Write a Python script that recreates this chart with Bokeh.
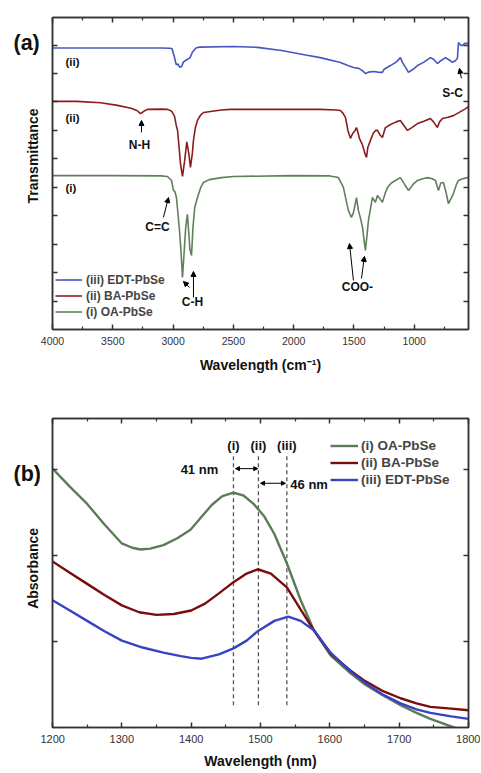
import math
from bokeh.plotting import figure
from bokeh.models import (Range1d, LinearAxis, FixedTicker, Label, Arrow,
                          NormalHead, Legend, LegendItem)
from bokeh.layouts import column, row
from bokeh.embed import file_html
from bokeh.resources import INLINE

# ---------------- data: panel (a) FTIR ----------------
ftir_wn_edt = [4000, 3500, 3100, 3030, 3010, 2990, 2975, 2960, 2945, 2930,
               2915, 2900, 2880, 2860, 2840, 2810, 2780, 2500, 2300, 2100,
               1900, 1780, 1612, 1550, 1504, 1460, 1430, 1405, 1380, 1338,
               1300, 1264, 1250, 1197, 1150, 1115, 1098, 1070, 1048, 1010,
               973, 920, 866, 840, 808, 780, 741, 700, 683, 660,
               642, 633, 615, 600, 580, 558, 550]
ftir_t_edt = [9.90, 9.90, 9.90, 9.89, 9.88, 9.60, 9.32, 9.33, 9.22, 9.24,
              9.40, 9.45, 9.50, 9.55, 9.75, 9.90, 9.93, 9.95, 9.92, 9.81,
              9.65, 9.56, 9.39, 9.28, 9.21, 9.18, 9.10, 9.00, 9.05, 9.07,
              9.05, 9.04, 9.15, 9.28, 9.40, 9.56, 9.39, 9.20, 9.04, 9.15,
              9.28, 9.40, 9.56, 9.50, 9.35, 9.45, 9.56, 9.45, 9.39, 9.45,
              9.53, 10.09, 9.99, 9.99, 10.06, 10.06, 10.04]

ftir_wn_ba = [4000, 3800, 3600, 3461, 3350, 3300, 3270, 3240, 3212, 3100,
              3046, 3015, 3005, 2988, 2975, 2963, 2950, 2939, 2922, 2905,
              2886, 2870, 2856, 2840, 2831, 2815, 2798, 2770, 2748, 2600,
              2524, 2000, 1778, 1650, 1612, 1590, 1570, 1550, 1529, 1515,
              1504, 1490, 1479, 1465, 1455, 1430, 1410, 1396, 1385, 1363,
              1340, 1320, 1305, 1285, 1264, 1250, 1239, 1200, 1150, 1115,
              1090, 1056, 1020, 973, 920, 866, 840, 808, 790, 766,
              720, 675, 620, 580, 558, 550]
ftir_t_ba = [8.02, 8.02, 7.97, 7.88, 7.78, 7.70, 7.59, 7.68, 7.74, 7.75,
             7.74, 7.68, 7.63, 7.49, 7.20, 7.00, 6.40, 5.84, 5.38, 5.90,
             6.60, 6.20, 5.70, 6.20, 6.65, 7.10, 7.35, 7.55, 7.63, 7.72,
             7.74, 7.74, 7.74, 7.72, 7.70, 7.60, 7.45, 7.00, 6.72, 6.85,
             6.93, 7.00, 7.10, 6.90, 6.72, 6.50, 6.20, 6.05, 6.40, 6.65,
             6.90, 7.00, 7.00, 6.85, 6.75, 6.95, 7.10, 7.20, 7.30, 7.35,
             7.20, 7.00, 7.10, 7.24, 7.32, 7.42, 7.30, 7.10, 7.30, 7.42,
             7.46, 7.52, 7.65, 7.75, 7.81, 7.85]

ftir_wn_oa = [4000, 3500, 3100, 3046, 3013, 2997, 2985, 2972, 2960, 2947,
              2935, 2922, 2910, 2895, 2881, 2870, 2860, 2847, 2835, 2820,
              2798, 2770, 2748, 2700, 2600, 2500, 2000, 1700, 1650, 1629,
              1605, 1587, 1565, 1546, 1521, 1504, 1479, 1463, 1445, 1429,
              1415, 1405, 1392, 1380, 1347, 1322, 1305, 1285, 1264, 1240,
              1222, 1190, 1156, 1115, 1080, 1048, 1010, 973, 930, 890,
              850, 824, 799, 780, 758, 735, 717, 695, 675, 650,
              633, 600, 558, 550]
ftir_t_oa = [5.41, 5.41, 5.40, 5.38, 5.24, 4.89, 4.85, 4.64, 4.10, 3.48,
             2.80, 1.83, 2.60, 3.60, 4.05, 3.40, 2.80, 2.60, 3.60, 4.30,
             4.64, 5.00, 5.17, 5.27, 5.34, 5.38, 5.41, 5.40, 5.36, 5.34,
             5.15, 4.99, 4.55, 4.18, 3.94, 4.11, 4.64, 4.18, 3.90, 3.59,
             3.10, 2.78, 3.30, 3.83, 4.64, 4.47, 4.71, 4.60, 4.47, 4.80,
             4.99, 5.15, 5.24, 5.34, 5.10, 4.89, 5.10, 5.24, 5.30, 5.34,
             5.30, 5.24, 4.89, 5.15, 5.17, 4.80, 4.43, 4.60, 4.78, 5.10,
             5.24, 5.30, 5.34, 5.36]

ftir_major_ticks = [4000, 3500, 3000, 2500, 2000, 1500, 1000]
ftir_minor_ticks = [3750, 3250, 2750, 2250, 1750, 1250, 750]
ftir_y_ticks = [1, 2, 3, 4, 5, 6, 7, 8, 9, 10]

# ---------------- data: panel (b) absorbance ----------------
abs_nm_oa = [1200, 1225, 1250, 1275, 1300, 1315, 1327, 1341, 1360, 1380,
             1399, 1415, 1430, 1445, 1461, 1475, 1490, 1505, 1520, 1538,
             1558, 1577, 1601, 1630, 1649, 1675, 1702, 1725, 1745, 1779,
             1800]
abs_oa = [3.01, 2.80, 2.60, 2.36, 2.14, 2.09, 2.07, 2.08, 2.12, 2.20,
          2.30, 2.45, 2.59, 2.69, 2.73, 2.70, 2.60, 2.46, 2.25, 1.91,
          1.48, 1.13, 0.84, 0.63, 0.51, 0.38, 0.26, 0.17, 0.10, 0.00,
          -0.06]

abs_nm_ba = [1200, 1225, 1250, 1275, 1300, 1325, 1350, 1375, 1400, 1420,
             1440, 1461, 1480, 1496, 1515, 1538, 1558, 1577, 1601, 1630,
             1649, 1675, 1702, 1725, 1745, 1775, 1800]
abs_ba = [1.93, 1.80, 1.67, 1.54, 1.42, 1.34, 1.31, 1.32, 1.36, 1.44,
          1.56, 1.69, 1.79, 1.84, 1.79, 1.63, 1.37, 1.13, 0.86, 0.66,
          0.55, 0.43, 0.34, 0.28, 0.24, 0.22, 0.20]

abs_nm_edt = [1200, 1225, 1250, 1275, 1300, 1330, 1360, 1385, 1400, 1415,
              1440, 1461, 1480, 1496, 1520, 1540, 1558, 1577, 1601, 1630,
              1649, 1675, 1702, 1725, 1745, 1775, 1800]
abs_edt = [1.48, 1.36, 1.24, 1.12, 1.01, 0.93, 0.87, 0.83, 0.81, 0.80,
           0.85, 0.92, 1.01, 1.12, 1.24, 1.29, 1.24, 1.13, 0.87, 0.65,
           0.53, 0.39, 0.28, 0.21, 0.17, 0.13, 0.10]

peak_nm = [1461, 1497, 1538]
peak_labels = ["(i)", "(ii)", "(iii)"]
shift_labels = ["41 nm", "46 nm"]

abs_major_ticks = [1200, 1300, 1400, 1500, 1600, 1700, 1800]
abs_minor_ticks = [1250, 1350, 1450, 1550, 1650, 1750]
abs_y_ticks = [1, 2, 3]

# ---------------- styling ----------------
FONT = "Liberation Sans"
AX = "#333333"
A_BLUE, A_RED, A_GREEN = "#4656c0", "#8c1c1c", "#617f5c"
B_GREEN, B_RED, B_BLUE = "#5c7c57", "#7b0c0c", "#3543c4"
SIDE_W = 40


def dress(ax, ticks, minor, labels=True, size="10.5px", standoff=7):
    ax.ticker = FixedTicker(ticks=ticks, minor_ticks=minor)
    ax.major_tick_in = 5
    ax.major_tick_out = 0
    ax.minor_tick_in = 3
    ax.minor_tick_out = 0
    ax.axis_line_color = AX
    ax.axis_line_width = 1.5
    ax.major_tick_line_color = AX
    ax.major_tick_line_width = 1.5
    ax.minor_tick_line_color = AX
    ax.minor_tick_line_width = 1.2
    ax.major_label_text_font = FONT
    if labels:
        ax.major_label_text_font_size = size
        ax.major_label_text_color = "#333333"
        ax.major_label_standoff = standoff
    else:
        ax.major_label_overrides = {t: "" for t in ticks}
        ax.major_label_text_font_size = "8px"
        ax.major_label_standoff = 0
    ax.axis_label_text_font = FONT
    ax.axis_label_text_font_style = "bold"
    ax.axis_label_text_font_size = "14px"
    ax.axis_label_text_color = "#111111"


def txt(p, x, y, s, size="12px", align="center", angle=0.0):
    p.add_layout(Label(x=x, y=y, text=s, text_font=FONT, text_font_style="bold",
                       text_font_size=size, text_align=align, angle=angle,
                       text_baseline="middle", text_color="#111111"))


def arrow(p, x0, y0, x1, y1, both=False, size=6):
    kw = {}
    if both:
        kw["start"] = NormalHead(size=size, fill_color="black", line_color="black")
    p.add_layout(Arrow(end=NormalHead(size=size, fill_color="black", line_color="black"),
                       x_start=x0, y_start=y0, x_end=x1, y_end=y1,
                       line_color="black", line_width=1, **kw))


def side(height, panel, ylabel, panel_y, label_y):
    # narrow strip to the left of a panel holding its letter and y-axis title
    s = figure(width=SIDE_W, height=height, x_range=Range1d(0, SIDE_W),
               y_range=Range1d(height, 0), min_border=0,
               x_axis_type=None, y_axis_type=None,
               output_backend="svg", toolbar_location=None)
    s.outline_line_color = None
    s.grid.visible = False
    txt(s, 13, panel_y, panel, "21.5px", "left")
    txt(s, 32, label_y, ylabel, "14px", "center", math.pi / 2)
    return s


# ---------------- panel (a) ----------------
pa = figure(frame_width=416, frame_height=312, min_border_left=12, min_border_right=12,
            min_border_top=17, min_border_bottom=72,
            x_range=Range1d(4000, 550), y_range=Range1d(0, 10.97),
            output_backend="svg", toolbar_location=None,
            x_axis_label="Wavelength (cm\u207b\u00b9)")
pa.grid.visible = False
pa.outline_line_color = AX
pa.outline_line_width = 1.5
dress(pa.xaxis[0], ftir_major_ticks, ftir_minor_ticks, True, "10.5px", 7)
pa.xaxis[0].axis_label_standoff = 9
dress(pa.yaxis[0], ftir_y_ticks, [], False)
ta = LinearAxis()
dress(ta, ftir_major_ticks, ftir_minor_ticks, False)
pa.add_layout(ta, "above")
ra = LinearAxis()
dress(ra, ftir_y_ticks, [], False)
pa.add_layout(ra, "right")

r_edt = pa.line(ftir_wn_edt, ftir_t_edt, line_color=A_BLUE, line_width=1.6)
r_ba = pa.line(ftir_wn_ba, ftir_t_ba, line_color=A_RED, line_width=1.6)
r_oa = pa.line(ftir_wn_oa, ftir_t_oa, line_color=A_GREEN, line_width=1.6)

leg_a = Legend(items=[LegendItem(label="(iii) EDT-PbSe", renderers=[r_edt]),
                      LegendItem(label="(ii) BA-PbSe", renderers=[r_ba]),
                      LegendItem(label="(i) OA-PbSe", renderers=[r_oa])],
               location=(3, 10), border_line_color=None, background_fill_alpha=0,
               label_text_font=FONT, label_text_font_style="bold",
               label_text_font_size="12px", glyph_width=27, glyph_height=15,
               label_height=15, spacing=1, padding=2, margin=0, label_standoff=4)
pa.add_layout(leg_a)

txt(pa, 3892, 9.39, "(ii)", "11.5px", "left")
txt(pa, 3892, 7.42, "(ii)", "11.5px", "left")
txt(pa, 3892, 4.99, "(i)", "11.5px", "left")
txt(pa, 3279, 6.47, "N-H")
arrow(pa, 3262, 6.93, 3262, 7.35, size=5)
txt(pa, 3129, 3.59, "C=C")
arrow(pa, 3080, 3.94, 3038, 4.64, size=5)
txt(pa, 2839, 0.95, "C-H")
arrow(pa, 2864, 1.48, 2914, 1.69, size=5)
arrow(pa, 2831, 1.13, 2831, 2.04, size=5)
txt(pa, 1471, 1.48, "COO-")
arrow(pa, 1504, 1.72, 1537, 3.02, size=5)
arrow(pa, 1438, 1.79, 1413, 2.57, size=5)
txt(pa, 683, 8.33, "S-C")
arrow(pa, 609, 8.83, 625, 9.18, size=5)

side_a = side(401, "(a)", "Transmittance", 33, 178)

# ---------------- panel (b) ----------------
pb = figure(frame_width=416, frame_height=309, min_border_left=12, min_border_right=12,
            min_border_top=17, min_border_bottom=45,
            x_range=Range1d(1200, 1800), y_range=Range1d(0, 3.593),
            output_backend="svg", toolbar_location=None,
            x_axis_label="Wavelength (nm)")
pb.grid.visible = False
pb.outline_line_color = AX
pb.outline_line_width = 1.5
dress(pb.xaxis[0], abs_major_ticks, abs_minor_ticks, True, "11px", 7)
pb.xaxis[0].axis_label_standoff = 7
dress(pb.yaxis[0], abs_y_ticks, [], False)
tb = LinearAxis()
dress(tb, abs_major_ticks, abs_minor_ticks, False)
pb.add_layout(tb, "above")
rb = LinearAxis()
dress(rb, abs_y_ticks, [], False)
pb.add_layout(rb, "right")

pb.segment(x0=peak_nm, y0=0.26, x1=peak_nm, y1=3.19, line_color="#555555",
           line_width=1.3, line_dash="4 3")

g_oa = pb.line(abs_nm_oa, abs_oa, line_color=B_GREEN, line_width=2.4)
g_ba = pb.line(abs_nm_ba, abs_ba, line_color=B_RED, line_width=2.4)
g_edt = pb.line(abs_nm_edt, abs_edt, line_color=B_BLUE, line_width=2.4)

leg_b = Legend(items=[LegendItem(label="(i) OA-PbSe", renderers=[g_oa]),
                      LegendItem(label="(ii) BA-PbSe", renderers=[g_ba]),
                      LegendItem(label="(iii) EDT-PbSe", renderers=[g_edt])],
               location=(278, 240), border_line_color=None, background_fill_alpha=0,
               label_text_font=FONT, label_text_font_style="bold",
               label_text_font_size="13.5px", glyph_width=28, glyph_height=15,
               label_height=15, spacing=2, padding=2, margin=0, label_standoff=3)
pb.add_layout(leg_b)

for xp, lab in zip(peak_nm, peak_labels):
    txt(pb, xp, 3.28, lab, "13px")
txt(pb, 1439, 3.00, shift_labels[0], "13px", "right")
arrow(pb, peak_nm[0] + 3, 3.01, peak_nm[1] - 1, 3.01, both=True, size=4)
txt(pb, 1543, 2.83, shift_labels[1], "13px", "left")
arrow(pb, peak_nm[1] + 3, 2.84, peak_nm[2] - 2, 2.84, both=True, size=4)

side_b = side(371, "(b)", "Absorbance", 67, 180)

layout = column(row(side_a, pa), row(side_b, pb))
open("out.html", "w").write(file_html(layout, INLINE))
